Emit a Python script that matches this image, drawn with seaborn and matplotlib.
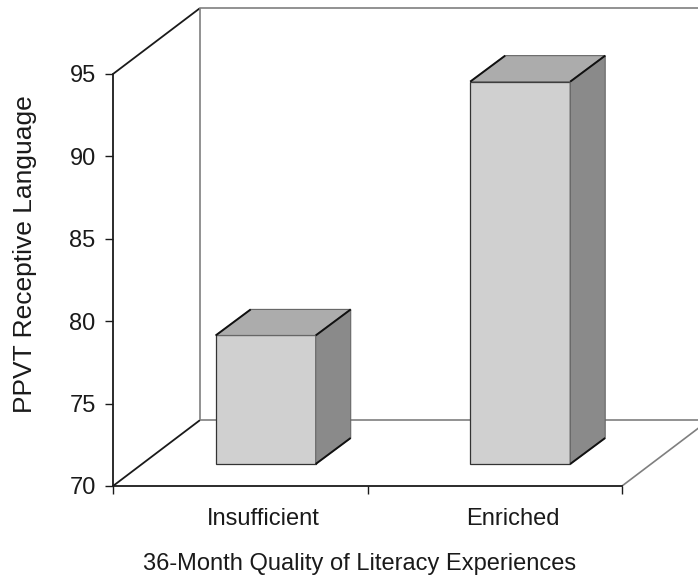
import matplotlib
matplotlib.use("Agg")
import matplotlib.pyplot as plt
import seaborn as sns
import pandas as pd
from matplotlib.patches import Polygon

# chart data
categories = ["Insufficient", "Enriched"]
ppvt_scores = [77.8, 93.2]
y_ticks = [70, 75, 80, 85, 90, 95]
x_label = "36-Month Quality of Literacy Experiences"
y_label = "PPVT Receptive Language"

sns.set_style("white")
plt.rcParams["font.family"] = ["Liberation Sans", "DejaVu Sans"]

W, H = 698, 578
fig = plt.figure(figsize=(W / 100, H / 100), dpi=100)
ax = fig.add_axes([113 / W, (H - 486) / H, (W - 113) / W, 486 / H])

# fake 3d: floor depth and bar offsets, in data units
depth_x, depth_y = 0.342, 4.0
bar_w = 0.393
shift_x, shift_y = 0.10, 1.335
bar_dx, bar_dy = 0.1375, 1.58

df = pd.DataFrame({"quality": categories, "ppvt": ppvt_scores})
sns.barplot(data=df, x="quality", y="ppvt", order=categories,
            color="#d0d0d0", saturation=1, width=bar_w,
            edgecolor="#333333", linewidth=0.9, ax=ax, zorder=3)

ax.set_xlim(-0.5, -0.5 + (W - 113) / 254.5)
ax.set_ylim(70, 70 + 486 / 16.48)

dark = dict(color="#1a1a1a", lw=1.3, solid_capstyle="butt")
grey = dict(color="#7f7f7f", lw=1.2, solid_capstyle="butt")

# walls and floor
wall_x = -0.5 + depth_x
ax.plot([-0.5, wall_x], [95, 95 + depth_y], clip_on=False, zorder=1, **dark)
ax.plot([-0.5, wall_x], [70, 70 + depth_y], clip_on=False, zorder=1, **dark)
ax.plot([wall_x, wall_x], [70 + depth_y, 95 + depth_y], zorder=1, **grey)
ax.plot([wall_x, 3], [95 + depth_y] * 2, zorder=1, **grey)
ax.plot([wall_x, 3], [70 + depth_y] * 2, zorder=1, **grey)
ax.plot([1.5, 1.5 + depth_x], [70, 70 + depth_y], zorder=1, **grey)

# move bar fronts into the floor, then add top and side faces
base = 70 + shift_y
for p in ax.patches[:len(categories)]:
    x0 = p.get_x() + shift_x
    p.set_x(x0)
    p.set_y(base)
    p.set_height(p.get_height() - 70)
    x1 = x0 + p.get_width()
    top = base + p.get_height()
    ax.add_patch(Polygon([(x0, top), (x1, top), (x1 + bar_dx, top + bar_dy),
                          (x0 + bar_dx, top + bar_dy)], closed=True,
                         fc="#acacac", ec="#666666", lw=0.8, zorder=3))
    ax.add_patch(Polygon([(x1, base), (x1 + bar_dx, base + bar_dy),
                          (x1 + bar_dx, top + bar_dy), (x1, top)], closed=True,
                         fc="#8a8a8a", ec="#666666", lw=0.8, zorder=3))
    for xa, ya in [(x0, top), (x1, top), (x1, base)]:
        ax.plot([xa, xa + bar_dx], [ya, ya + bar_dy], color="#111111",
                lw=1.4, zorder=4, solid_capstyle="butt")

# axes styling
for s in ["top", "right"]:
    ax.spines[s].set_visible(False)
ax.spines["left"].set_bounds(70, 95)
ax.spines["bottom"].set_bounds(-0.5, 1.5)
for s in ["left", "bottom"]:
    ax.spines[s].set_color("#1a1a1a")
    ax.spines[s].set_linewidth(1.3)

ax.set_yticks(y_ticks)
ax.tick_params(axis="y", length=6, width=1, direction="out", pad=6.5,
               labelsize=17, colors="#1a1a1a", left=True)
ax.set_xticks([0.09, 1.07], categories)
ax.tick_params(axis="x", which="major", length=0, pad=16, labelsize=17,
               colors="#1a1a1a")
ax.set_xticks([-0.5, 0.5, 1.5], minor=True)
ax.tick_params(axis="x", which="minor", length=6, width=1, direction="out",
               color="#1a1a1a", bottom=True)

ax.set_xlabel(x_label, fontsize=17, color="#1a1a1a")
ax.xaxis.set_label_coords(0.422, -0.137)
ax.set_ylabel(y_label, fontsize=19, color="#1a1a1a")
ax.yaxis.set_label_coords(-0.130, 0.478)

fig.savefig("out.png", dpi=100)
